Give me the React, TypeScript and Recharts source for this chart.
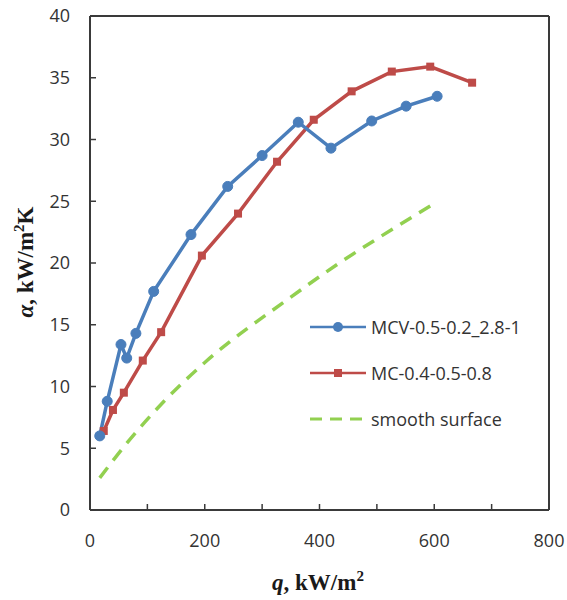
import { LineChart, Line, XAxis, YAxis, ReferenceLine, Label } from "recharts";

// MCV-0.5-0.2_2.8-1
const mcvQ = [17, 30, 54, 64, 80, 111, 176, 240, 300, 363, 420, 491, 551, 605];
const mcvA = [6.0, 8.8, 13.4, 12.3, 14.3, 17.7, 22.3, 26.2, 28.7, 31.4, 29.3, 31.5, 32.7, 33.5];

// MC-0.4-0.5-0.8
const mcQ = [24, 40, 59, 92, 124, 195, 258, 326, 390, 456, 526, 593, 666];
const mcA = [6.4, 8.1, 9.5, 12.1, 14.4, 20.6, 24.0, 28.2, 31.6, 33.9, 35.5, 35.9, 34.6];

// smooth surface
const smoothQ = [17, 64, 127, 204, 343, 441, 505, 603];
const smoothA = [2.6, 5.4, 8.7, 12.1, 17.0, 20.2, 22.1, 24.9];

const xTicks = [0, 100, 200, 300, 400, 500, 600, 700, 800];
const yTicks = [0, 5, 10, 15, 20, 25, 30, 35, 40];

const BLUE = "#4a7ebb";
const RED = "#be4b48";
const GREEN = "#92d050";
const AXIS = "#3a3a3a";
const TEXT = "#333";

const mcv = mcvQ.map((q, i) => ({ q, a: mcvA[i] }));
const mc = mcQ.map((q, i) => ({ q, a: mcA[i] }));
const smooth = smoothQ.map((q, i) => ({ q, a: smoothA[i] }));

const legendItems = [
  { name: "MCV-0.5-0.2_2.8-1", color: BLUE, kind: "circle" },
  { name: "MC-0.4-0.5-0.8", color: RED, kind: "square" },
  { name: "smooth surface", color: GREEN, kind: "dash" },
];

const LegendBox = () => (
  <div
    style={{
      position: "absolute",
      left: 310,
      top: 304,
      fontFamily: "'Open Sans', sans-serif",
      fontSize: 18,
      color: TEXT,
    }}
  >
    {legendItems.map((it) => (
      <div key={it.name} style={{ display: "flex", alignItems: "center", height: 46 }}>
        <svg width={58} height={14} style={{ marginRight: 3 }}>
          {it.kind === "dash" ? (
            <line x1={0} y1={7} x2={56} y2={7} stroke={it.color} strokeWidth={3} strokeDasharray="12 8" />
          ) : (
            <line x1={0} y1={7} x2={56} y2={7} stroke={it.color} strokeWidth={2.5} />
          )}
          {it.kind === "circle" && <circle cx={28} cy={7} r={5} fill={it.color} />}
          {it.kind === "square" && <rect x={24} y={3} width={8} height={8} fill={it.color} />}
        </svg>
        <span>{it.name}</span>
      </div>
    ))}
  </div>
);

const XLabel = () => (
  <text
    x={318}
    y={590}
    textAnchor="middle"
    fontFamily="'Liberation Serif', 'Times New Roman', serif"
    fontWeight="bold"
    fontSize={23}
    fill="#1a1a1a"
  >
    <tspan fontStyle="italic">q</tspan>
    <tspan>, kW/m</tspan>
    <tspan dy={-9} fontSize={15}>2</tspan>
  </text>
);

const YLabel = () => (
  <text
    x={0}
    y={0}
    transform="translate(33, 262) rotate(-90)"
    textAnchor="middle"
    fontFamily="'Liberation Serif', 'Times New Roman', serif"
    fontWeight="bold"
    fontSize={23}
    fill="#1a1a1a"
  >
    <tspan fontStyle="italic">α</tspan>
    <tspan>, kW/m</tspan>
    <tspan dy={-9} fontSize={15}>2</tspan>
    <tspan dy={9}>K</tspan>
  </text>
);

const tickStyle = { fill: TEXT, fontSize: 18, fontFamily: "'Open Sans', sans-serif" };

export default function App() {
  return (
    <div style={{ position: "absolute", left: 0, top: 0, width: 567, height: 600, background: "#fff" }}>
      <LineChart width={567} height={600} margin={{ top: 16, right: 18, bottom: 30, left: 0 }}>
        <XAxis
          type="number"
          dataKey="q"
          domain={[0, 800]}
          ticks={xTicks}
          interval={0}
          tickFormatter={(v: number) => (v % 200 === 0 ? String(v) : "")}
          tickSize={-6}
          tickMargin={30}
          height={60}
          axisLine={{ stroke: AXIS, strokeWidth: 2 }}
          tickLine={{ stroke: AXIS, strokeWidth: 1.5 }}
          tick={tickStyle}
        >
          <Label content={<XLabel />} />
        </XAxis>
        <YAxis
          type="number"
          domain={[0, 40]}
          ticks={yTicks}
          interval={0}
          width={90}
          tickSize={-6}
          tickMargin={26}
          axisLine={{ stroke: AXIS, strokeWidth: 2 }}
          tickLine={{ stroke: AXIS, strokeWidth: 1.5 }}
          tick={tickStyle}
        >
          <Label content={<YLabel />} />
        </YAxis>
        <ReferenceLine y={40} stroke={AXIS} strokeWidth={2} ifOverflow="visible" />
        <ReferenceLine x={800} stroke={AXIS} strokeWidth={2} ifOverflow="visible" />
        <Line
          data={smooth}
          dataKey="a"
          type="monotone"
          stroke={GREEN}
          strokeWidth={3.5}
          strokeDasharray="13 9"
          dot={false}
          isAnimationActive={false}
        />
        <Line
          data={mc}
          dataKey="a"
          type="linear"
          stroke={RED}
          strokeWidth={3.5}
          dot={(p: any) => (
            <rect key={`mc-${p.index}`} x={p.cx - 4} y={p.cy - 4} width={8} height={8} fill={RED} />
          )}
          isAnimationActive={false}
        />
        <Line
          data={mcv}
          dataKey="a"
          type="linear"
          stroke={BLUE}
          strokeWidth={3.5}
          dot={{ r: 5, fill: BLUE, stroke: BLUE, strokeWidth: 1 }}
          isAnimationActive={false}
        />
      </LineChart>
      <LegendBox />
    </div>
  );
}
